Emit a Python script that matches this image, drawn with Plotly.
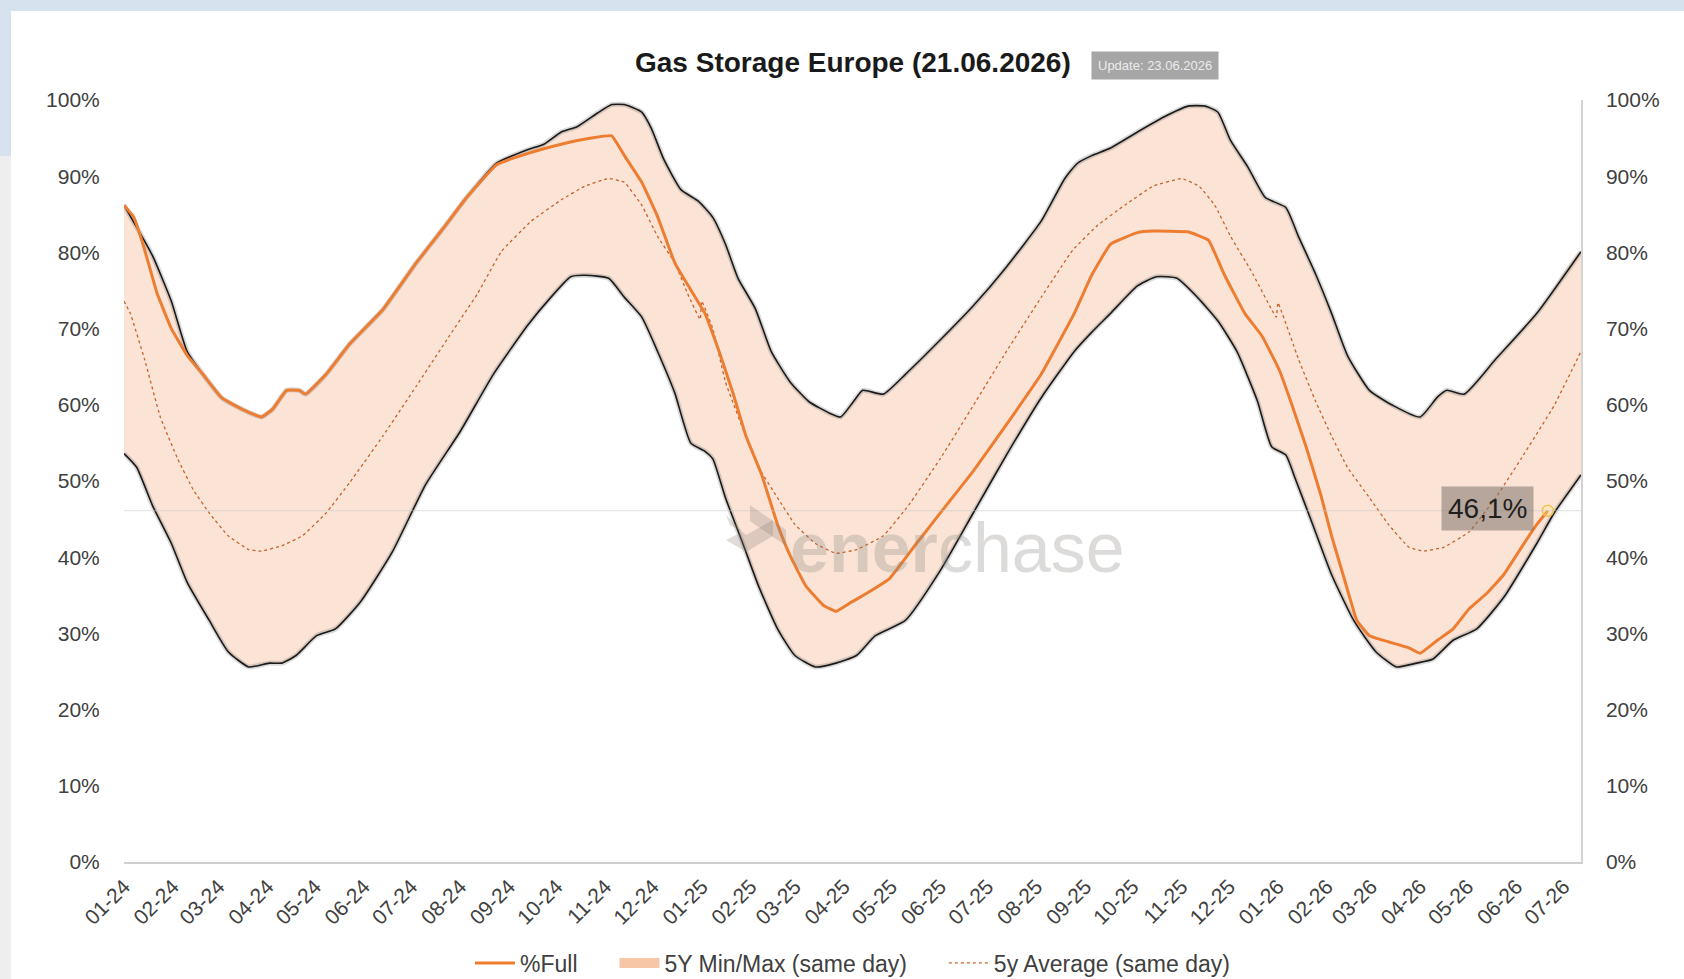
import plotly.graph_objects as go

# ---------------- data ----------------
full_dates = ["2024-01-01","2024-01-07","2024-01-13","2024-01-22","2024-01-31","2024-02-10","2024-02-20",
    "2024-03-03","2024-03-16","2024-03-28","2024-04-04","2024-04-13","2024-04-21","2024-04-25","2024-05-08",
    "2024-05-23","2024-06-13","2024-07-04","2024-07-21","2024-08-05","2024-08-24","2024-09-13","2024-10-04",
    "2024-10-23","2024-11-05","2024-11-13","2024-11-24","2024-12-04","2024-12-15","2024-12-25","2025-01-03",
    "2025-01-12","2025-01-21","2025-01-29","2025-02-08","2025-02-18","2025-02-26","2025-03-08","2025-03-19",
    "2025-03-27","2025-04-05","2025-04-15","2025-04-30","2025-05-17","2025-06-03","2025-06-22","2025-07-13",
    "2025-08-04","2025-08-25","2025-09-05","2025-09-17","2025-10-04","2025-10-14","2025-11-05","2025-11-18",
    "2025-11-28","2025-12-11","2025-12-22","2026-01-02","2026-01-10","2026-01-19","2026-01-28","2026-02-04",
    "2026-02-12","2026-02-20","2026-02-28","2026-03-12","2026-03-25","2026-04-01","2026-04-12","2026-04-22",
    "2026-05-02","2026-05-13","2026-05-24","2026-06-04","2026-06-14","2026-06-21"]
full_vals = [86.2,84.7,81.1,74.6,70.0,66.5,64.0,60.9,59.4,58.4,59.4,61.9,61.9,61.4,64.0,68.0,72.5,78.6,83.1,
    87.2,91.5,93.0,94.2,95.0,95.3,92.7,89.2,84.7,78.6,75.1,72.0,67.0,61.4,55.9,50.8,44.3,40.2,36.2,33.7,32.9,
    34.0,35.2,37.2,41.8,46.3,51.3,57.4,64.0,72.0,77.0,81.1,82.6,82.8,82.7,81.6,77.1,72.0,69.0,64.5,59.9,54.4,
    48.3,42.8,37.2,31.7,29.7,28.9,28.1,27.4,29.1,30.6,33.2,35.2,37.7,41.2,44.3,46.1]

max_dates = ["2024-01-01","2024-01-11","2024-01-19","2024-01-31","2024-02-10","2024-02-20","2024-03-03",
    "2024-03-16","2024-03-28","2024-04-04","2024-04-13","2024-04-21","2024-04-25","2024-05-08","2024-05-23",
    "2024-06-13","2024-07-04","2024-07-21","2024-08-05","2024-08-24","2024-09-13","2024-09-23","2024-10-04",
    "2024-10-14","2024-10-27","2024-11-05","2024-11-13","2024-11-24","2024-11-30","2024-12-08","2024-12-19",
    "2024-12-30","2025-01-08","2025-01-16","2025-01-24","2025-02-04","2025-02-14","2025-02-26","2025-03-10",
    "2025-03-23","2025-03-30","2025-04-07","2025-04-13","2025-04-26","2025-05-10","2025-06-01","2025-06-22",
    "2025-07-13","2025-08-04","2025-08-19","2025-08-27","2025-09-05","2025-09-17","2025-10-04","2025-10-21",
    "2025-11-05","2025-11-16","2025-11-24","2025-12-02","2025-12-13","2025-12-24","2026-01-06","2026-01-14",
    "2026-01-25","2026-02-04","2026-02-14","2026-02-28","2026-03-15","2026-04-01","2026-04-12","2026-04-18",
    "2026-04-29","2026-05-19","2026-06-14","2026-07-12"]
max_vals = [86.2,82.6,79.6,73.6,67.0,64.0,60.9,59.4,58.4,59.4,61.9,61.9,61.4,64.0,68.0,72.5,78.6,83.1,87.2,
    91.7,93.5,94.2,95.8,96.5,98.3,99.4,99.4,98.4,96.3,92.2,88.2,86.7,84.6,81.1,76.6,72.6,67.0,63.0,60.4,58.9,
    58.4,60.4,61.9,61.4,64.0,68.5,73.0,78.1,84.1,89.7,91.7,92.7,93.7,95.8,97.8,99.2,99.2,98.4,94.7,91.2,87.2,
    85.9,82.1,77.1,72.0,66.5,61.9,59.9,58.4,61.0,61.9,61.4,66.0,72.0,80.1]

min_dates = ["2024-01-01","2024-01-09","2024-01-19","2024-01-31","2024-02-10","2024-02-24","2024-03-07",
    "2024-03-20","2024-04-02","2024-04-10","2024-04-19","2024-05-02","2024-05-14","2024-05-30","2024-06-19",
    "2024-07-10","2024-08-01","2024-08-22","2024-09-13","2024-09-27","2024-10-10","2024-10-19","2024-11-03",
    "2024-11-13","2024-11-24","2024-12-04","2024-12-15","2024-12-25","2025-01-03","2025-01-08","2025-01-16",
    "2025-01-27","2025-02-06","2025-02-18","2025-03-01","2025-03-14","2025-03-27","2025-04-09","2025-04-21",
    "2025-05-10","2025-06-01","2025-06-22","2025-07-13","2025-08-04","2025-08-25","2025-09-05","2025-09-17",
    "2025-10-04","2025-10-16","2025-10-29","2025-11-11","2025-11-24","2025-12-06","2025-12-19","2025-12-28",
    "2026-01-06","2026-01-12","2026-01-23","2026-02-04","2026-02-18","2026-03-04","2026-03-17","2026-03-30",
    "2026-04-09","2026-04-22","2026-05-07","2026-05-24","2026-06-14","2026-06-25","2026-07-12"]
min_vals = [53.6,51.8,46.8,41.8,36.7,31.7,27.6,25.6,26.1,26.1,27.1,29.7,30.6,34.2,40.7,49.5,56.5,64.0,70.5,
    74.0,76.8,77.0,76.6,74.1,71.5,67.0,61.5,55.0,53.9,52.9,47.8,41.8,36.2,30.6,27.1,25.6,26.1,27.1,29.7,31.7,
    38.2,45.8,53.4,60.9,67.0,69.5,72.0,75.6,76.8,76.6,74.1,71.0,67.0,60.5,54.5,53.4,50.3,44.3,37.7,31.7,27.6,
    25.6,26.1,26.6,29.1,30.6,34.7,41.8,45.8,50.8]

avg_dates = ["2024-01-01","2024-01-05","2024-01-14","2024-01-24","2024-02-04","2024-02-14","2024-02-24",
    "2024-03-07","2024-03-20","2024-03-28","2024-04-10","2024-04-23","2024-05-08","2024-05-23","2024-06-13",
    "2024-07-04","2024-07-25","2024-08-12","2024-08-27","2024-09-15","2024-10-04","2024-10-19","2024-11-03",
    "2024-11-13","2024-11-24","2024-12-04","2024-12-15","2024-12-23","2024-12-31","2025-01-01","2025-01-08",
    "2025-01-16","2025-01-27","2025-02-06","2025-02-18","2025-03-01","2025-03-14","2025-03-27","2025-04-09",
    "2025-04-26","2025-05-12","2025-06-01","2025-06-22","2025-07-13","2025-08-04","2025-08-24","2025-09-09",
    "2025-09-26","2025-10-14","2025-11-01","2025-11-12","2025-11-22","2025-12-02","2025-12-15","2025-12-28",
    "2025-12-31","2026-01-01","2026-01-14","2026-01-25","2026-02-04","2026-02-14","2026-02-28","2026-03-12",
    "2026-03-25","2026-04-03","2026-04-16","2026-05-02","2026-05-19","2026-06-04","2026-06-25","2026-07-12"]
avg_vals = [73.6,72.0,66.0,58.4,52.9,48.8,45.8,42.8,41.0,40.8,41.5,42.8,45.8,49.8,55.9,62.4,69.0,74.6,80.1,
    84.1,86.9,88.7,89.7,89.2,86.2,82.1,78.6,74.6,71.2,73.6,70.0,63.0,56.9,51.8,47.8,44.3,41.8,40.5,41.0,42.8,
    46.8,52.9,59.9,67.0,74.1,80.3,83.6,86.2,88.7,89.7,88.7,86.2,82.1,77.6,72.5,71.5,73.4,66.0,60.4,55.9,51.8,
    47.8,44.3,41.3,40.8,41.3,43.3,47.8,52.9,59.9,67.0]

y_ticks = [0, 10, 20, 30, 40, 50, 60, 70, 80, 90, 100]
y_tick_text = [f"{v}%" for v in y_ticks]
x_range = ["2024-01-01", "2026-07-12"]
title_text = "Gas Storage Europe (21.06.2026)"
update_text = "Update: 23.06.2026"
legend_names = ["%Full", "5Y Min/Max (same day)", "5y Average (same day)"]

# ---------------- geometry ----------------
W, H = 1684, 979
ML, MR, MT, MB = 124, 103, 100, 117
PW, PH = W - ML - MR, H - MT - MB

def px(x):
    return (x - ML) / PW

def py(y):
    return (H - MB - y) / PH

ORANGE = "#ED7D31"
FILL = "#FBE4D6"
AVG_C = "#C8622A"
FONT = "Liberation Sans, Arial, sans-serif"
SM = dict(shape="spline", smoothing=0.5)
NB = "\u00a0"

fig = go.Figure()

# band polygon
fig.add_trace(go.Scatter(x=max_dates + min_dates[::-1], y=max_vals + min_vals[::-1], fill="toself",
                         fillcolor=FILL, line=dict(width=0, **SM), mode="lines", hoverinfo="skip",
                         showlegend=False))
# soft shadows and outlines
for d, v in ((max_dates, max_vals), (min_dates, min_vals)):
    fig.add_trace(go.Scatter(x=d, y=v, mode="lines", line=dict(color="rgba(0,0,0,0.15)", width=5, **SM),
                             showlegend=False, hoverinfo="skip"))
    fig.add_trace(go.Scatter(x=d, y=v, mode="lines", line=dict(color="#1a1a1a", width=1.6, **SM),
                             showlegend=False))

fig.add_trace(go.Scatter(x=avg_dates, y=avg_vals, mode="lines",
                         line=dict(color=AVG_C, width=1.3, dash="dot", shape="spline", smoothing=0.3),
                         showlegend=False))
fig.add_trace(go.Scatter(x=full_dates, y=full_vals, mode="lines",
                         line=dict(color=ORANGE, width=3, shape="spline", smoothing=0.3), showlegend=False))
fig.add_trace(go.Scatter(x=[full_dates[-1]], y=[full_vals[-1]], mode="markers",
                         marker=dict(size=11, color="rgba(255,230,150,0.35)",
                                     line=dict(color="#F2C14E", width=1.5)), showlegend=False))

# current-level reference line on the right axis
fig.add_trace(go.Scatter(x=x_range, y=[full_vals[-1], full_vals[-1]], mode="lines", yaxis="y2",
                         line=dict(color="rgba(200,200,200,0.45)", width=1.2), showlegend=False,
                         hoverinfo="skip"))

# legend entries
fig.add_trace(go.Scatter(x=[None], y=[None], mode="lines", name=legend_names[0] + NB * 5,
                         line=dict(color=ORANGE, width=3)))
fig.add_trace(go.Scatter(x=[None], y=[None], mode="lines", name=legend_names[1] + NB * 5,
                         line=dict(color="#F7C6A6", width=10)))
fig.add_trace(go.Scatter(x=[None], y=[None], mode="lines", name=legend_names[2],
                         line=dict(color=AVG_C, width=1.3, dash="dot")))

last_label = f"{full_vals[-1]:.1f}".replace(".", ",") + "%"

fig.update_layout(
    width=W, height=H,
    margin=dict(l=ML, r=MR, t=MT, b=MB, autoexpand=False),
    paper_bgcolor="white", plot_bgcolor="white",
    font=dict(family=FONT, color="#404040"),
    showlegend=True,
    legend=dict(orientation="h", x=0.5, xanchor="center", y=py(963), yanchor="middle",
                font=dict(size=23, color="#404040"), itemwidth=40, tracegroupgap=0,
                bgcolor="rgba(0,0,0,0)"),
    xaxis=dict(type="date", range=x_range, dtick="M1", tick0="2024-01-01", tickformat="%m-%y",
               tickangle=-45, tickfont=dict(size=21, color="#404040"), showgrid=False,
               showline=True, linecolor="#cfcfcf", linewidth=2, ticks="outside", ticklen=2,
               tickcolor="rgba(0,0,0,0)", zeroline=False),
    yaxis=dict(range=[0, 100], tickvals=y_ticks, ticktext=y_tick_text, showgrid=False, zeroline=False,
               tickfont=dict(size=21, color="#404040"), ticks="outside", ticklen=19,
               tickcolor="rgba(0,0,0,0)", showline=False),
    yaxis2=dict(range=[0, 100], tickvals=y_ticks, ticktext=y_tick_text, overlaying="y", side="right",
                showgrid=False, zeroline=False, tickfont=dict(size=21, color="#404040"),
                ticks="outside", ticklen=19, tickcolor="rgba(0,0,0,0)", showline=True,
                linecolor="#d4d4d4", linewidth=1.5),
    hovermode=False,
)

annotations = [
    dict(text=f"<b>{title_text}</b>", xref="paper", yref="paper", x=0.5, y=py(63), xanchor="center",
         yanchor="middle", showarrow=False, font=dict(size=28, color="#1a1a1a", family=FONT)),
    dict(text=update_text, xref="paper", yref="paper", x=px(1091), y=py(65), xanchor="left",
         yanchor="middle", showarrow=False, bgcolor="#a6a6a6", borderpad=6,
         font=dict(size=13, color="#ececec", family=FONT)),
    dict(text=last_label, x=full_dates[-1], y=full_vals[-1], xref="x", yref="y", xanchor="right",
         yanchor="middle", xshift=-14, yshift=2, showarrow=False, bgcolor="rgba(125,115,108,0.55)",
         borderpad=6, font=dict(size=28, color="#1f1f1f", family=FONT)),
    dict(text="<b>ener</b>chase", xref="paper", yref="paper", x=px(788), y=py(548), xanchor="left",
         yanchor="middle", showarrow=False,
         font=dict(size=70, color="rgba(140,135,130,0.30)", family=FONT)),
]
fig.update_layout(annotations=annotations)

# frame of the original screenshot and watermark logo
shapes = [
    dict(type="rect", xref="paper", yref="paper", x0=px(0), x1=px(W), y0=py(11), y1=py(0),
         fillcolor="#D6E2EE", line=dict(width=0), layer="below"),
    dict(type="rect", xref="paper", yref="paper", x0=px(0), x1=px(11), y0=py(156), y1=py(0),
         fillcolor="#D6E2EE", line=dict(width=0), layer="below"),
    dict(type="rect", xref="paper", yref="paper", x0=px(0), x1=px(11), y0=py(H), y1=py(156),
         fillcolor="#EEEEEE", line=dict(width=0), layer="below"),
]
logo = [(726, 515), (746, 535), (773, 520), (773, 536), (746, 552), (726, 540), (742, 532), (730, 525)]
path = "M " + " L ".join(f"{px(a):.4f},{py(b):.4f}" for a, b in logo) + " Z"
shapes.append(dict(type="path", xref="paper", yref="paper", path=path,
                   fillcolor="rgba(140,130,122,0.28)", line=dict(width=0)))
logo2 = [(750, 505), (786, 530), (786, 546), (750, 521)]
path2 = "M " + " L ".join(f"{px(a):.4f},{py(b):.4f}" for a, b in logo2) + " Z"
shapes.append(dict(type="path", xref="paper", yref="paper", path=path2,
                   fillcolor="rgba(140,130,122,0.28)", line=dict(width=0)))
fig.update_layout(shapes=shapes)

fig.write_html("out.html", config={"displayModeBar": False},
               post_script="document.body.style.margin='0px';")
